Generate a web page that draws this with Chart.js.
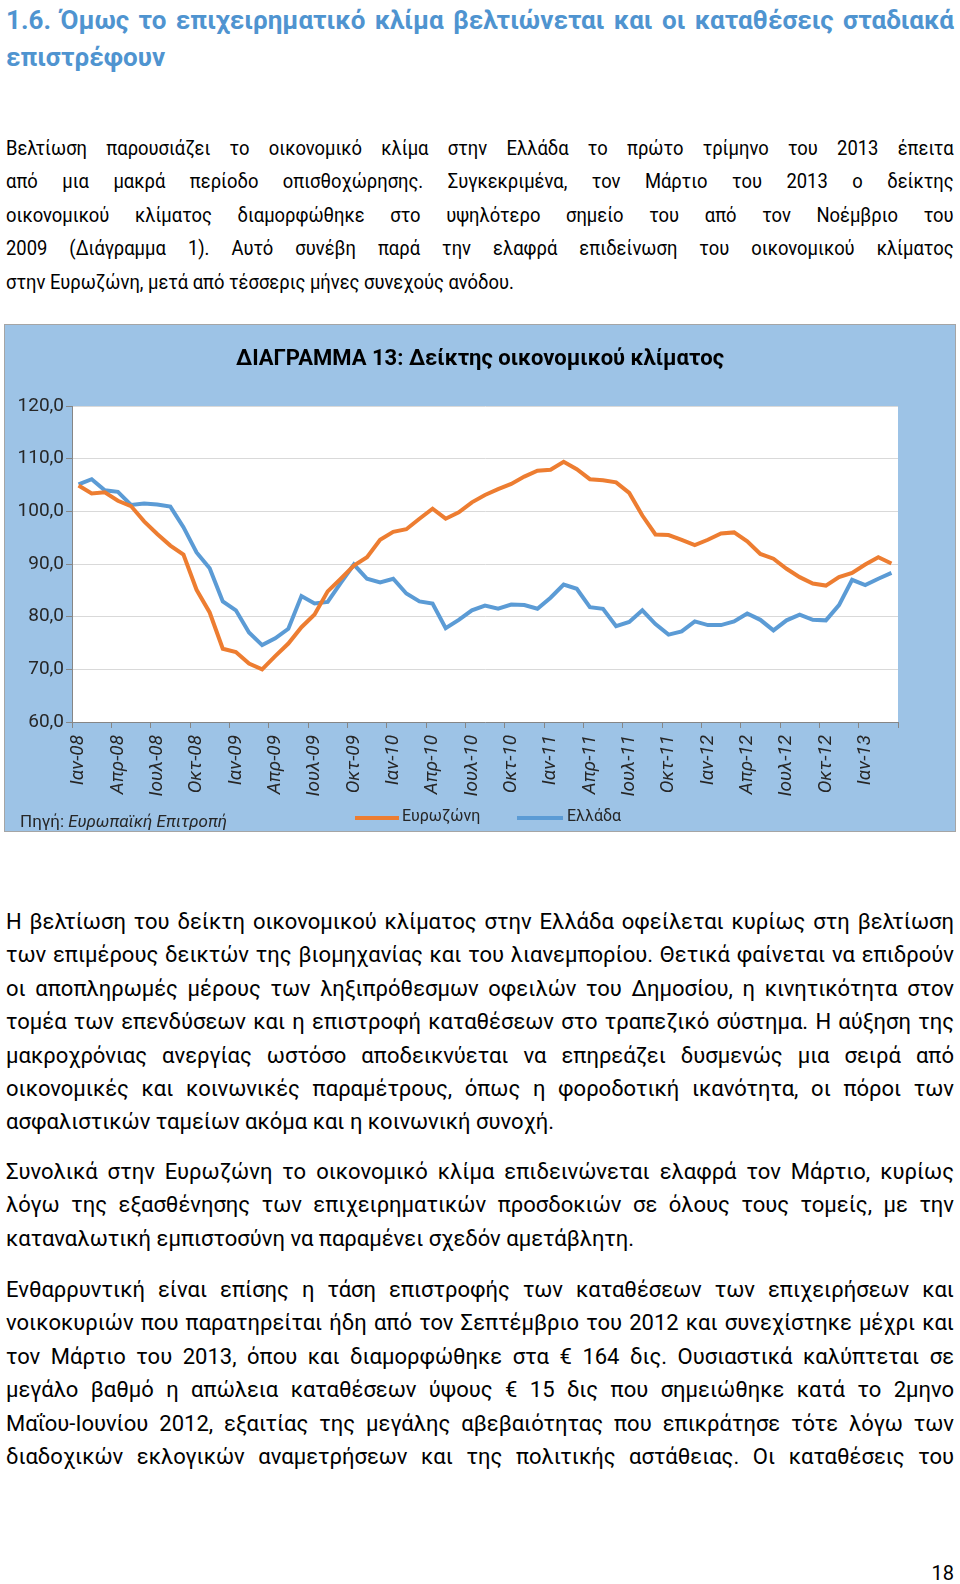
<!DOCTYPE html>
<html lang="el">
<head>
<meta charset="utf-8">
<title>Δείκτης οικονομικού κλίματος</title>
<script src="https://cdn.jsdelivr.net/npm/chart.js@4.4.1/dist/chart.umd.min.js"></script>
<style>
  html, body { margin: 0; padding: 0; background: #fff; }
  body { width: 960px; height: 1584px; position: relative; overflow: hidden;
         font-family: Roboto, "Noto Sans", sans-serif; color: #000; }
  .blk { position: absolute; left: 6px; width: 948px; }
  .ln { white-space: nowrap; text-align: justify; text-align-last: justify; }
  .ln.last { text-align: left; text-align-last: left; }
  .h { color: #4f94d0; font-weight: bold; font-size: 26px; line-height: 37px; }
  .p { font-size: 22px; line-height: 33.4px; }
  .p.narrow { font-size: 21px; width: 1083px; transform: scaleX(0.875); transform-origin: 0 0; }
  #chartBox { position: absolute; left: 4px; top: 324px; width: 952px; height: 508px;
              box-sizing: border-box; border: 1px solid #a5a5a5; background: #9dc3e6; }
  #chartBox canvas { position: absolute; left: 0; top: 0; }
  .ov { position: absolute; white-space: nowrap; }
  #ctitle { left: 0; width: 950px; text-align: center; top: 20px; font-weight: bold; font-size: 22px; }
  #source { left: 15px; top: 486px; font-size: 17px; color: #262626; }
  .leg { top: 481px; font-size: 16px; color: #262626; }
  .legline { position: absolute; height: 4px; top: 491px; }
  #pageno { position: absolute; right: 6px; top: 1561px; font-size: 20px; }
</style>
</head>
<body>

<div class="blk h" style="top:2px">
  <div class="ln">1.6. Όμως το επιχειρηματικό κλίμα βελτιώνεται και οι καταθέσεις σταδιακά</div>
  <div class="ln last">επιστρέφουν</div>
</div>

<div class="blk p narrow" style="top:132px">
  <div class="ln">Βελτίωση παρουσιάζει το οικονομικό κλίμα στην Ελλάδα το πρώτο τρίμηνο του 2013 έπειτα</div>
  <div class="ln">από μια μακρά περίοδο οπισθοχώρησης. Συγκεκριμένα, τον Μάρτιο του 2013 ο δείκτης</div>
  <div class="ln">οικονομικού κλίματος διαμορφώθηκε στο υψηλότερο σημείο του από τον Νοέμβριο του</div>
  <div class="ln">2009 (Διάγραμμα 1). Αυτό συνέβη παρά την ελαφρά επιδείνωση του οικονομικού κλίματος</div>
  <div class="ln last">στην Ευρωζώνη, μετά από τέσσερις μήνες συνεχούς ανόδου.</div>
</div>

<div id="chartBox">
  <canvas id="climate" width="950" height="506"></canvas>
  <div id="ctitle" class="ov">ΔΙΑΓΡΑΜΜΑ 13: Δείκτης οικονομικού κλίματος</div>
  <div id="source" class="ov">Πηγή: <i>Ευρωπαϊκή Επιτροπή</i></div>
  <div class="legline" style="left:350px;width:44px;background:#ed7d31"></div>
  <div class="ov leg" style="left:397px">Ευρωζώνη</div>
  <div class="legline" style="left:512px;width:46px;background:#5b9bd5"></div>
  <div class="ov leg" style="left:562px">Ελλάδα</div>
</div>

<div class="blk p" style="top:905px">
  <div class="ln">Η βελτίωση του δείκτη οικονομικού κλίματος στην Ελλάδα οφείλεται κυρίως στη βελτίωση</div>
  <div class="ln">των επιμέρους δεικτών της βιομηχανίας και του λιανεμπορίου. Θετικά φαίνεται να επιδρούν</div>
  <div class="ln">οι αποπληρωμές μέρους των ληξιπρόθεσμων οφειλών του Δημοσίου, η κινητικότητα στον</div>
  <div class="ln">τομέα των επενδύσεων και η επιστροφή καταθέσεων στο τραπεζικό σύστημα. Η αύξηση της</div>
  <div class="ln">μακροχρόνιας ανεργίας ωστόσο αποδεικνύεται να επηρεάζει δυσμενώς μια σειρά από</div>
  <div class="ln">οικονομικές και κοινωνικές παραμέτρους, όπως η φοροδοτική ικανότητα, οι πόροι των</div>
  <div class="ln last">ασφαλιστικών ταμείων ακόμα και η κοινωνική συνοχή.</div>
</div>

<div class="blk p" style="top:1155px">
  <div class="ln">Συνολικά στην Ευρωζώνη το οικονομικό κλίμα επιδεινώνεται ελαφρά τον Μάρτιο, κυρίως</div>
  <div class="ln">λόγω της εξασθένησης των επιχειρηματικών προσδοκιών σε όλους τους τομείς, με την</div>
  <div class="ln last">καταναλωτική εμπιστοσύνη να παραμένει σχεδόν αμετάβλητη.</div>
</div>

<div class="blk p" style="top:1273px">
  <div class="ln">Ενθαρρυντική είναι επίσης η τάση επιστροφής των καταθέσεων των επιχειρήσεων και</div>
  <div class="ln">νοικοκυριών που παρατηρείται ήδη από τον Σεπτέμβριο του 2012 και συνεχίστηκε μέχρι και</div>
  <div class="ln">τον Μάρτιο του 2013, όπου και διαμορφώθηκε στα € 164 δις. Ουσιαστικά καλύπτεται σε</div>
  <div class="ln">μεγάλο βαθμό η απώλεια καταθέσεων ύψους € 15 δις που σημειώθηκε κατά το 2μηνο</div>
  <div class="ln">Μαΐου-Ιουνίου 2012, εξαιτίας της μεγάλης αβεβαιότητας που επικράτησε τότε λόγω των</div>
  <div class="ln">διαδοχικών εκλογικών αναμετρήσεων και της πολιτικής αστάθειας. Οι καταθέσεις του</div>
</div>

<div id="pageno">18</div>

<script>
// shrink any text line that does not fit the column
document.querySelectorAll('.ln').forEach(function(el) {
  var size = parseFloat(getComputedStyle(el).fontSize);
  while (el.scrollWidth > el.clientWidth + 0.5 && size > 10) {
    size -= 0.25;
    el.style.fontSize = size + 'px';
  }
});

// months Jan-08 .. Mar-13
var months = [
  'Ιαν-08','Φεβ-08','Μαρ-08','Απρ-08','Μαϊ-08','Ιουν-08','Ιουλ-08','Αυγ-08','Σεπ-08','Οκτ-08','Νοε-08','Δεκ-08',
  'Ιαν-09','Φεβ-09','Μαρ-09','Απρ-09','Μαϊ-09','Ιουν-09','Ιουλ-09','Αυγ-09','Σεπ-09','Οκτ-09','Νοε-09','Δεκ-09',
  'Ιαν-10','Φεβ-10','Μαρ-10','Απρ-10','Μαϊ-10','Ιουν-10','Ιουλ-10','Αυγ-10','Σεπ-10','Οκτ-10','Νοε-10','Δεκ-10',
  'Ιαν-11','Φεβ-11','Μαρ-11','Απρ-11','Μαϊ-11','Ιουν-11','Ιουλ-11','Αυγ-11','Σεπ-11','Οκτ-11','Νοε-11','Δεκ-11',
  'Ιαν-12','Φεβ-12','Μαρ-12','Απρ-12','Μαϊ-12','Ιουν-12','Ιουλ-12','Αυγ-12','Σεπ-12','Οκτ-12','Νοε-12','Δεκ-12',
  'Ιαν-13','Φεβ-13','Μαρ-13'
];

// Eurozone
var eurozone = [
  104.9, 103.4, 103.6, 102.0, 101.0, 98.1, 95.7, 93.5, 91.8, 85.1, 80.8, 73.9,
  73.3, 71.1, 70.0, 72.5, 74.9, 78.0, 80.4, 84.8, 87.2, 89.7, 91.3, 94.6,
  96.1, 96.6, 98.6, 100.5, 98.6, 99.8, 101.7, 103.1, 104.2, 105.2, 106.6, 107.7,
  107.9, 109.4, 108.0, 106.1, 105.9, 105.5, 103.5, 99.2, 95.6, 95.5, 94.6, 93.6,
  94.6, 95.8, 96.0, 94.3, 91.9, 91.0, 89.1, 87.5, 86.3, 85.9, 87.5, 88.3,
  89.9, 91.3, 90.1
];

// Greece
var greece = [
  105.1, 106.1, 104.0, 103.7, 101.2, 101.5, 101.3, 100.9, 97.0, 92.2, 89.2, 82.9,
  81.2, 77.0, 74.6, 75.9, 77.7, 83.9, 82.5, 82.8, 86.4, 89.9, 87.2, 86.5,
  87.2, 84.4, 82.9, 82.5, 77.8, 79.4, 81.2, 82.1, 81.5, 82.3, 82.2, 81.5,
  83.6, 86.1, 85.3, 81.8, 81.5, 78.2, 79.0, 81.2, 78.6, 76.6, 77.2, 79.1,
  78.4, 78.4, 79.1, 80.6, 79.4, 77.4, 79.3, 80.4, 79.4, 79.3, 82.2, 87.0,
  86.0, 87.2, 88.3
];

var yTicks = [60, 70, 80, 90, 100, 110, 120];

var axisGray = '#868686';
var fontFam = 'Roboto, "Noto Sans", sans-serif';

// white plot area on the blue background
var plotBg = {
  id: 'plotBg',
  beforeDraw: function(chart) {
    var a = chart.chartArea, ctx = chart.ctx;
    ctx.save();
    ctx.fillStyle = '#ffffff';
    ctx.fillRect(a.left, a.top, a.right - a.left, a.bottom - a.top);
    ctx.restore();
  }
};

var climateChart = new Chart(document.getElementById('climate'), {
  type: 'line',
  data: {
    labels: months,
    datasets: [{
      label: 'Ευρωζώνη',
      data: eurozone,
      borderColor: '#ed7d31',
      backgroundColor: '#ed7d31',
      borderWidth: 4,
      pointRadius: 0,
      tension: 0
    }, {
      label: 'Ελλάδα',
      data: greece,
      borderColor: '#5b9bd5',
      backgroundColor: '#5b9bd5',
      borderWidth: 4,
      pointRadius: 0,
      tension: 0
    }]
  },
  options: {
    responsive: false,
    animation: false,
    layout: { padding: { top: 81, right: 57, bottom: 0, left: 0 } },
    plugins: {
      legend: { display: false },
      title: { display: false },
      tooltip: { enabled: false }
    },
    scales: {
      x: {
        offset: true,
        afterFit: function(s) { s.height = 109; },
        border: { color: axisGray },
        grid: {
          offset: true,
          drawOnChartArea: false,
          tickLength: 6,
          color: function(ctx) {
            return (ctx.index === undefined || ctx.index % 3 === 0) ? axisGray : 'rgba(0,0,0,0)';
          }
        },
        ticks: {
          autoSkip: false,
          maxRotation: 90,
          minRotation: 90,
          padding: 7,
          color: '#262626',
          font: { family: fontFam, size: 19, style: 'italic' },
          callback: function(value, index) {
            return index % 3 === 0 ? months[index] : '';
          }
        }
      },
      y: {
        min: 60,
        max: 120,
        afterFit: function(s) { s.width = 67; },
        afterBuildTicks: function(s) {
          s.ticks = yTicks.map(function(v) { return { value: v }; });
        },
        border: { color: axisGray },
        grid: { color: '#d9d9d9', tickColor: axisGray, tickLength: 6 },
        ticks: {
          padding: 2,
          color: '#262626',
          font: { family: fontFam, size: 19 },
          callback: function(v) { return v.toFixed(1).replace('.', ','); }
        }
      }
    }
  },
  plugins: [plotBg]
});
</script>
</body>
</html>
